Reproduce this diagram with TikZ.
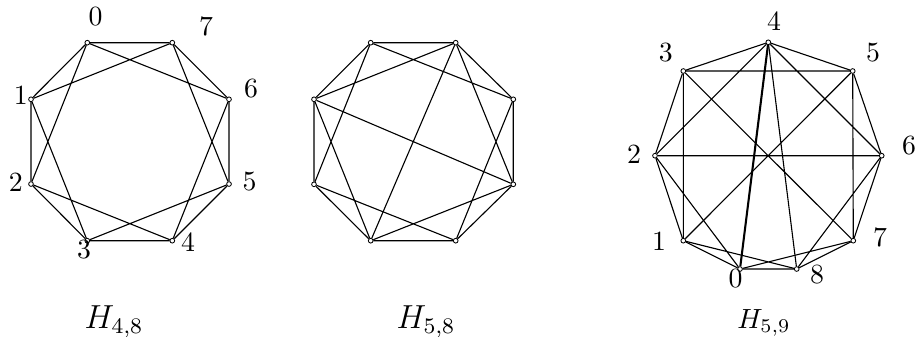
\documentclass[tikz,border=0pt]{standalone}
\begin{document}
\begin{tikzpicture}[
x=0.36pt, y=-0.36pt,
vertex/.style={draw, circle, fill=white, inner sep=0pt, minimum size=1.7pt, line width=0.3pt},
link/.style={line width=0.4pt},
heavy/.style={line width=0.75pt},
lab/.style={inner sep=0pt},
title/.style={inner sep=0pt, anchor=base}
]
\useasboundingbox (0,0) rectangle (916,336);
\node[vertex] (a0) at (87.3,42.7) {};
\node[vertex] (a1) at (31,99.3) {};
\node[vertex] (a2) at (31,184) {};
\node[vertex] (a3) at (87.3,240.7) {};
\node[vertex] (a4) at (172.3,240.7) {};
\node[vertex] (a5) at (229,184) {};
\node[vertex] (a6) at (229,99.3) {};
\node[vertex] (a7) at (172.3,42.7) {};
\node[lab] (a0lab) at (95.5,17) {0};
\node[lab] (a1lab) at (20.8,95) {1};
\node[lab] (a2lab) at (15.8,182.5) {2};
\node[lab] (a3lab) at (84,250) {3};
\node[lab] (a4lab) at (188,241.7) {4};
\node[lab] (a5lab) at (249.5,181.7) {5};
\node[lab] (a6lab) at (251,89) {6};
\node[lab] (a7lab) at (206,26.7) {7};
\draw[link] (a0) -- (a1) (a1) -- (a2) (a2) -- (a3) (a3) -- (a4)
  (a4) -- (a5) (a5) -- (a6) (a6) -- (a7) (a7) -- (a0);
\draw[link] (a0) -- (a2) (a1) -- (a3) (a2) -- (a4) (a3) -- (a5)
  (a4) -- (a6) (a5) -- (a7) (a6) -- (a0) (a7) -- (a1);
\node[title] (h48) at (114,328) {\large $H_{4,8}$};
\node[vertex] (b0) at (370.7,42.7) {};
\node[vertex] (b1) at (314,99.3) {};
\node[vertex] (b2) at (314,184.3) {};
\node[vertex] (b3) at (370.7,240.7) {};
\node[vertex] (b4) at (455.7,240.7) {};
\node[vertex] (b5) at (513.3,184.3) {};
\node[vertex] (b6) at (513.3,99.3) {};
\node[vertex] (b7) at (455.7,42.7) {};
\draw[link] (b0) -- (b1) (b1) -- (b2) (b2) -- (b3) (b3) -- (b4)
  (b4) -- (b5) (b5) -- (b6) (b6) -- (b7) (b7) -- (b0);
\draw[link] (b0) -- (b2) (b1) -- (b3) (b2) -- (b4) (b3) -- (b5)
  (b4) -- (b6) (b5) -- (b7) (b6) -- (b0) (b7) -- (b1);
\draw[link] (b1) -- (b5) (b3) -- (b7);
\node[title] (h58) at (426,328) {\large $H_{5,8}$};
\node[vertex] (c0) at (740,269) {};
\node[vertex] (c1) at (683.3,240.7) {};
\node[vertex] (c2) at (655,155.7) {};
\node[vertex] (c3) at (683.3,71) {};
\node[vertex] (c4) at (768.3,42.3) {};
\node[vertex] (c5) at (852.7,71) {};
\node[vertex] (c6) at (881.7,155.7) {};
\node[vertex] (c7) at (853.3,240.7) {};
\node[vertex] (c8) at (796.7,269) {};
\node[lab] (c0lab) at (735.5,279) {0};
\node[lab] (c1lab) at (659,241.7) {1};
\node[lab] (c2lab) at (634,154) {2};
\node[lab] (c3lab) at (665.8,52.5) {3};
\node[lab] (c4lab) at (774,20.8) {4};
\node[lab] (c5lab) at (873,52.5) {5};
\node[lab] (c6lab) at (909,146) {6};
\node[lab] (c7lab) at (880,237.5) {7};
\node[lab] (c8lab) at (817,275) {8};
\draw[link] (c0) -- (c1) (c1) -- (c2) (c2) -- (c3) (c3) -- (c4) (c4) -- (c5)
  (c5) -- (c6) (c6) -- (c7) (c7) -- (c8) (c8) -- (c0);
\draw[link] (c0) -- (c2) (c1) -- (c3) (c2) -- (c4) (c3) -- (c5) (c4) -- (c6)
  (c5) -- (c7) (c6) -- (c8) (c7) -- (c0) (c8) -- (c1);
\draw[link] (c1) -- (c5) (c2) -- (c6) (c3) -- (c7) (c4) -- (c8);
\draw[heavy] (c4) -- (c0);
\node[title] (h59) at (764,328) {$H_{5,9}$};
\end{tikzpicture}
\end{document}
